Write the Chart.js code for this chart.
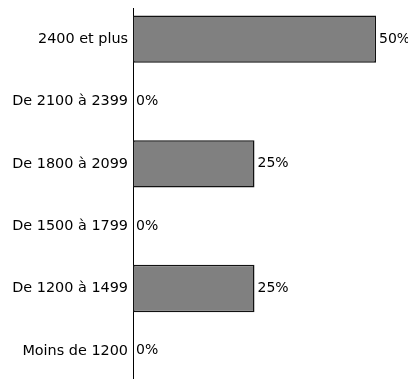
<!DOCTYPE html>
<html>
<head>
<meta charset="utf-8">
<script src="https://cdn.jsdelivr.net/npm/chart.js@4"></script>
<style>
  html, body { margin: 0; padding: 0; background: #fff; overflow: hidden; }
  canvas { display: block; }
</style>
</head>
<body>
<canvas id="revenusChart" width="408" height="382"></canvas>
<script>
const categories = ['2400 et plus', 'De 2100 à 2399', 'De 1800 à 2099', 'De 1500 à 1799', 'De 1200 à 1499', 'Moins de 1200'];
const percents = [50, 0, 25, 0, 25, 0];

const fontFamily = '"DejaVu Sans", sans-serif';

// draw "xx%" next to each bar
const valueLabels = {
  id: 'valueLabels',
  afterDatasetsDraw(chart) {
    const ctx = chart.ctx;
    const meta = chart.getDatasetMeta(0);
    ctx.save();
    ctx.font = '14px ' + fontFamily;
    ctx.fillStyle = '#000';
    ctx.textAlign = 'left';
    ctx.textBaseline = 'middle';
    meta.data.forEach((bar, i) => {
      ctx.fillText(percents[i] + '%', bar.x + 3, bar.y);
    });
    ctx.restore();
  }
};

const ctx = document.getElementById('revenusChart').getContext('2d');
let chart = new Chart(ctx, {
  type: 'bar',
  data: {
    labels: categories,
    datasets: [{
      data: percents,
      backgroundColor: '#808080',
      borderColor: '#111',
      borderWidth: 1.5,
      borderSkipped: false,
      barPercentage: 0.76,
      categoryPercentage: 1
    }]
  },
  options: {
    indexAxis: 'y',
    responsive: false,
    animation: false,
    layout: { padding: { top: 8, right: 32, bottom: 0, left: 0 } },
    scales: {
      x: { display: false, min: 0, max: 50 },
      y: {
        afterFit(scale) {
          scale.width = 133;
          scale.paddingTop = 0;
          scale.paddingBottom = 0;
        },
        grid: { display: false, drawTicks: false },
        border: { display: true, color: '#000', width: 1 },
        ticks: { color: '#000', padding: 5, font: { family: fontFamily, size: 14.4 } }
      }
    },
    plugins: {
      legend: { display: false },
      tooltip: { enabled: false }
    }
  },
  plugins: [valueLabels]
});
</script>
</body>
</html>
